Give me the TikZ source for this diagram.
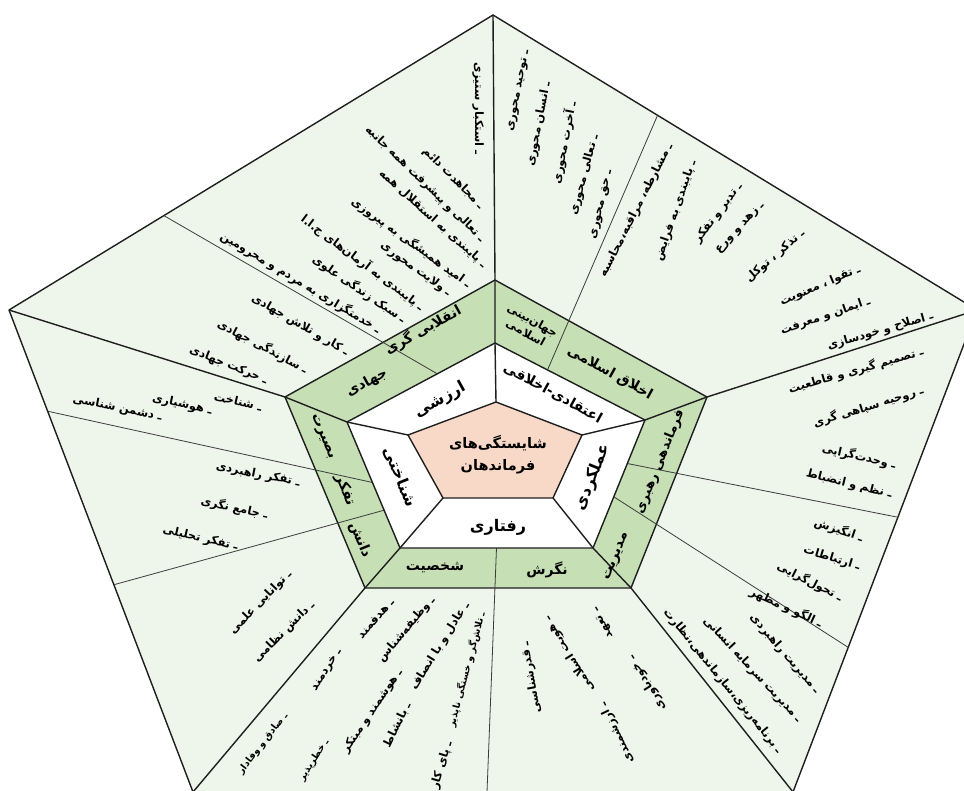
\documentclass[tikz,border=0pt]{standalone}
\usepackage{fontspec}
\usetikzlibrary{calc}
\newfontfamily\arabicfont[Script=Arabic]{DejaVu Sans}
\TeXXeTstate=1
\definecolor{outerbg}{HTML}{EEF5EA}
\definecolor{bandbg}{HTML}{C6DFB5}
\definecolor{corebg}{HTML}{F8D9C8}
\definecolor{edge}{HTML}{1E1E1E}
\definecolor{thin}{HTML}{3C3C3C}
\newcommand{\fa}[1]{{\arabicfont\bfseries\beginR #1\endR}}
\newcommand{\sm}{\fontsize{9.5}{11}\selectfont}

\begin{document}
\begin{tikzpicture}[x=1pt, y=-1pt,
  rim/.style={draw=edge, line width=1.4pt, line join=round},
  split/.style={draw=thin, line width=0.8pt},
  item/.style={anchor=east, inner sep=0pt, font=\fontsize{11.5}{13}\selectfont},
  band/.style={inner sep=0pt, font=\fontsize{14}{16}\selectfont, align=center},
  core/.style={inner sep=0pt, font=\fontsize{16}{18}\selectfont, align=center}
]
\clip (0,0) rectangle (964,791);

% corners of the four pentagons
\coordinate (T) at (493,15);   \coordinate (R) at (977,310);
\coordinate (BR) at (793,792); \coordinate (BL) at (193,792);
\coordinate (L) at (9,310);
\coordinate (gT) at (495,280);  \coordinate (gR) at (707,397);
\coordinate (gBR) at (631,588); \coordinate (gBL) at (365,588);
\coordinate (gL) at (285,397);
\coordinate (wT) at (495,343);  \coordinate (wR) at (645,420);
\coordinate (wBR) at (593,548); \coordinate (wBL) at (400,548);
\coordinate (wL) at (347,422);
\coordinate (pT) at (496,402);  \coordinate (pR) at (582,435);
\coordinate (pBR) at (553,498); \coordinate (pBL) at (443,498);
\coordinate (pL) at (408,435);

\filldraw[rim, fill=outerbg] (T) -- (R) -- (BR) -- (BL) -- (L) -- cycle;
\filldraw[rim, fill=bandbg] (gT) -- (gR) -- (gBR) -- (gBL) -- (gL) -- cycle;

% thin dividers between the groups
\draw[split] ($(L)!0.32!(T)$) -- ($(wL)!0.61!(wT)$);
\draw[split] ($(T)!0.34!(R)$) -- ($(wT)!0.35!(wR)$);
\draw[split] ($(R)!0.43!(BR)$) -- ($(wR)!0.34!(wBR)$);
\draw[split] ($(R)!0.70!(BR)$) -- ($(wR)!0.60!(wBR)$);
\draw[split] ($(BL)!0.49!(BR)$) -- ($(wBL)!0.5!(wBR)$);
\draw[split] ($(L)!0.21!(BL)$) -- ($(wL)!0.48!(wBL)$);
\draw[split] ($(L)!0.57!(BL)$) -- ($(wL)!0.70!(wBL)$);

\filldraw[rim, fill=white] (wT) -- (wR) -- (wBR) -- (wBL) -- (wL) -- cycle;
\filldraw[rim, fill=corebg] (pT) -- (pR) -- (pBR) -- (pBL) -- (pL) -- cycle;

\draw[rim] (T) -- (gT) -- (wT) -- (pT);
\draw[rim] (R) -- (gR) -- (wR) -- (pR);
\draw[rim] (BR) -- (gBR) -- (wBR) -- (pBR);
\draw[rim] (BL) -- (gBL) -- (wBL) -- (pBL);
\draw[rim] (L) -- (gL) -- (wL) -- (pL);

% centre and inner ring
\node[align=center, inner sep=0pt, font=\fontsize{14.5}{22}\selectfont] (title) at (498,455)
  {\fa{شایستگی^^^^200cهای}\\\fa{فرماندهان}};
\node[core, rotate=29] (vval) at (440,400) {\fa{ارزشی}};
\node[core, rotate=-29, font=\fontsize{14}{16}\selectfont] (vbel) at (553,393) {\fa{اعتقادی-اخلاقی}};
\node[core, rotate=68] (vact) at (593,477) {\fa{عملکردی}};
\node[core] (vbeh) at (498,527) {\fa{رفتاری}};
\node[core, rotate=-68] (vcog) at (400,477) {\fa{شناختی}};

% green ring
\node[band, rotate=29] (lrev) at (423,330) {\fa{انقلابی گری}};
\node[band, rotate=29] (ljih) at (367,383) {\fa{جهادی}};
\node[band, rotate=-29, font=\fontsize{11.5}{14}\selectfont] (lwvw) at (529,327)
  {\fa{جهان^^^^200cبینی}\\\fa{اسلامی}};
\node[band, rotate=-29] (leth) at (610,373) {\fa{اخلاق اسلامی}};
\node[band, rotate=68, font=\fontsize{13}{15}\selectfont] (lcmd) at (660,462) {\fa{فرماندهی رهبری}};
\node[band, rotate=68] (lmgt) at (617,557) {\fa{مدیریت}};
\node[band] (lper) at (435,568) {\fa{شخصیت}};
\node[band] (latt) at (547,570) {\fa{نگرش}};
\node[band, rotate=-68] (lins) at (322,437) {\fa{بصیرت}};
\node[band, rotate=-68] (lthk) at (345,490) {\fa{تفکر}};
\node[band, rotate=-68] (lknw) at (360,540) {\fa{دانش}};

% outer lists
\foreach \x/\y/\a/\t [count=\i] in {
  478/155/-90/{ـ استکبار ستیزی},
  482/207/-45/{ـ مجاهدت دائم},
  483/240/-44/{ـ تعالی و پیشرفت همه جانبه},
  485/266/-42/{ـ پایبندی به استقلال همه},
  470/285/-36/{ـ امید همیشگی به پیروزی},
  450/294/-36/{ـ ولایت محوری},
  423/308/-37/{ـ پایبندی به آرمان^^^^200cهای ج.ا.ا},
  405/320/-34/{ـ سبک زندگی علوی},
  380/330/-31/{ـ خدمتگزاری به مردم و محرومین}}
  \node[item, rotate=\a] (rev\i) at (\x,\y) {\fa{\t}};

\foreach \x/\y/\a/\t [count=\i] in {
  348/353/-30/{ـ کار و تلاش جهادی},
  307/370/-28/{ـ سازندگی جهادی},
  267/381/-22/{ـ حرکت جهادی}}
  \node[item, rotate=\a] (jih\i) at (\x,\y) {\fa{\t}};

\foreach \x/\y/\a/\t [count=\i] in {
  262/407/-13/{ـ شناخت},
  212/411/-12/{ـ هوشیاری},
  162/417/-11/{ـ دشمن شناسی}}
  \node[item, rotate=\a] (ins\i) at (\x,\y) {\fa{\t}};

\foreach \x/\y/\a/\t [count=\i] in {
  300/483/-11/{ـ تفکر راهبردی},
  268/515/-12/{ـ جامع نگری},
  238/547/-13/{ـ تفکر تحلیلی}}
  \node[item, rotate=\a] (thk\i) at (\x,\y) {\fa{\t}};

\foreach \x/\y/\a/\t [count=\i] in {
  290/572/46/{ـ توانایی علمی},
  313/603/45/{ـ دانش نظامی}}
  \node[item, rotate=\a] (knw\i) at (\x,\y) {\fa{\t}};

\foreach \x/\y/\a/\t [count=\i] in {
  392/600/49/{ـ هدفمند},
  433/598/50/{ـ وظیفه^^^^200cشناس},
  467/603/58/{ـ عادل و با انصاف},
  482/612/75/{\sm ـ تلاش^^^^200cگر و خستگی ناپذیر},
  340/650/58/{ـ خردمند},
  400/670/56/{ـ هوشمند و مبتکر},
  408/703/64/{ـ بانشاط},
  286/714/52/{\sm ـ صادق و وفادار},
  327/740/57/{\sm ـ خطرپذیر},
  449/742/73/{ـ پای کار}}
  \node[item, rotate=\a] (per\i) at (\x,\y) {\fa{\t}};

\foreach \x/\y/\a/\t [count=\i] in {
  525/642/100/{ـ قدرشناسی},
  546/618/122/{ـ هویت اسلامی},
  595/608/120/{ـ تعهد},
  630/657/122/{ـ خودباوری},
  602/703/116/{ـ ارزشمندی}}
  \node[item, rotate=\a] (att\i) at (\x,\y) {\fa{\t}};

\foreach \x/\y/\a/\t [count=\i] in {
  818/692/-49/{ـ مدیریت راهبردی},
  800/721/-47/{ـ مدیریت سرمایه انسانی},
  780/752/-51/{ـ برنامه^^^^200cریزی،سازماندهی،نظارت}}
  \node[item, rotate=\a] (mgt\i) at (\x,\y) {\fa{\t}};

\foreach \x/\y/\a/\t [count=\i] in {
  863/538/-19/{ـ انگیزش},
  860/567/-17/{ـ ارتباطات},
  842/598/-27/{ـ تحول^^^^200cگرایی},
  822/624/-25/{ـ الگو و مظهر}}
  \node[item, rotate=\a] (ldr\i) at (\x,\y) {\fa{\t}};

\foreach \x/\y/\a/\t [count=\i] in {
  923/351/16/{ـ تصمیم گیری و قاطعیت},
  923/390/17/{ـ روحیه سپاهی گری},
  896/465/-13/{ـ وحدت^^^^200cگرایی},
  892/495/-14/{ـ نظم و انضباط}}
  \node[item, rotate=\a] (cmd\i) at (\x,\y) {\fa{\t}};

\foreach \x/\y/\a/\t [count=\i] in {
  527/50/79/{ـ توحید محوری},
  547/82/79/{ـ انسان محوری},
  572/102/79/{ـ آخرت محوری},
  595/135/75/{ـ تعالی محوری},
  610/170/77/{ـ حق محوری}}
  \node[item, rotate=\a] (wvw\i) at (\x,\y) {\fa{\t}};

\foreach \x/\y/\a/\t [count=\i] in {
  670/144/63/{ـ مشارطه، مراقبه،محاسبه},
  693/161/71/{ـ پایبندی به فرایض},
  740/184/53/{ـ تدبر و تفکر},
  763/204/47/{ـ زهد و ورع},
  803/232/41/{ـ تذکر ، توکل},
  860/269/23/{ـ تقوا ، معنویت},
  870/301/19/{ـ ایمان و معرفت},
  933/316/16/{ـ اصلاح و خودسازی}}
  \node[item, rotate=\a] (eth\i) at (\x,\y) {\fa{\t}};
\end{tikzpicture}
\end{document}
